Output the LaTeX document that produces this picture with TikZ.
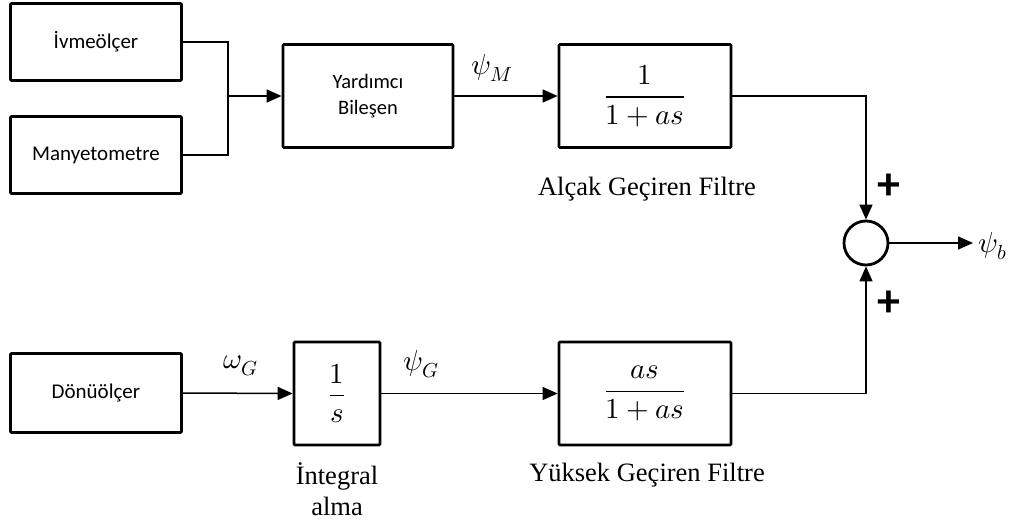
\documentclass[tikz,border=0pt]{standalone}
\usepackage{fontspec}
\usepackage{unicode-math}
\setmainfont{Liberation Serif}
\setmathfont{latinmodern-math.otf}
\newfontfamily\boxfont{Carlito}
\usetikzlibrary{arrows.meta}

\begin{document}
\begin{tikzpicture}[x=1pt,y=-1pt,
  blk/.style={draw, line width=2.8pt, rounded corners=1pt, inner sep=0pt,
    align=center},
  sensor/.style={blk, minimum width=171pt, minimum height=77pt,
    font=\boxfont\fontsize{21}{26}\selectfont},
  tf/.style={blk, minimum height=103pt, font=\fontsize{29}{33}\selectfont},
  sig/.style={line width=1.5pt, -{Triangle[length=15pt,width=13pt]}},
  wire/.style={line width=1.5pt},
  sym/.style={font=\fontsize{29}{33}\selectfont, inner sep=0pt},
  caption/.style={font=\fontsize{26.5}{31}\selectfont, align=center, inner sep=0pt},
  plus/.style={font=\boxfont\bfseries\fontsize{46}{46}\selectfont, inner sep=0pt}]
\useasboundingbox (0,0) rectangle (1015,522);

% sensors
\node[sensor] (ivme) at (96,42) {İvmeölçer};
\node[sensor] (many) at (96,155) {Manyetometre};
\node[sensor, minimum height=79pt] (dono) at (96,393) {Dönüölçer};

% processing blocks
\node[blk, minimum width=170pt, minimum height=103pt,
  font=\boxfont\fontsize{20.5}{26}\selectfont] (yard) at (368,96) {Yardımcı\\Bileşen};
\node[tf, minimum width=172pt] (lp) at (645,96) {$\dfrac{1}{1+as}$};
\node[tf, minimum width=86pt] (integ) at (337,393.5) {$\dfrac{1}{s}$};
\node[tf, minimum width=172pt] (hp) at (645,393.5) {$\dfrac{as}{1+as}$};

% summing junction
\node[draw, circle, line width=2.8pt, minimum size=44pt, inner sep=0pt] (sum) at (866,243) {};

% wiring
\coordinate (j) at (228,96);
\draw[wire] (ivme.east) -| (j);
\draw[wire] (many.east) -| (j);
\draw[sig] (j) -- (yard.west);
\draw[sig] (yard.east) -- (lp.west);
\draw[sig] (lp.east) -| (sum.north);
\coordinate (out) at (973,243);
\draw[sig] (sum.east) -- (out);
\draw[sig] (dono.east) -- (integ.west);
\draw[sig] (integ.east) -- (hp.west);
\draw[sig] (hp.east) -| (sum.south);

% signal labels
\node[sym] (psiM) at (492,68) {$\psi_M$};
\node[sym, anchor=west] (psib) at (978,246) {$\psi_b$};
\node[sym] (omegaG) at (241,366) {$\omega_G$};
\node[sym] (psiG) at (421,364) {$\psi_G$};
\node[plus] (p1) at (889,187) {+};
\node[plus] (p2) at (889,304) {+};

% block captions
\node[caption] (lpcap) at (647,189) {Alçak Geçiren Filtre};
\node[caption] (hpcap) at (647,475) {Yüksek Geçiren Filtre};
\node[caption] (intcap) at (337,489) {İntegral\\alma};
\end{tikzpicture}
\end{document}
